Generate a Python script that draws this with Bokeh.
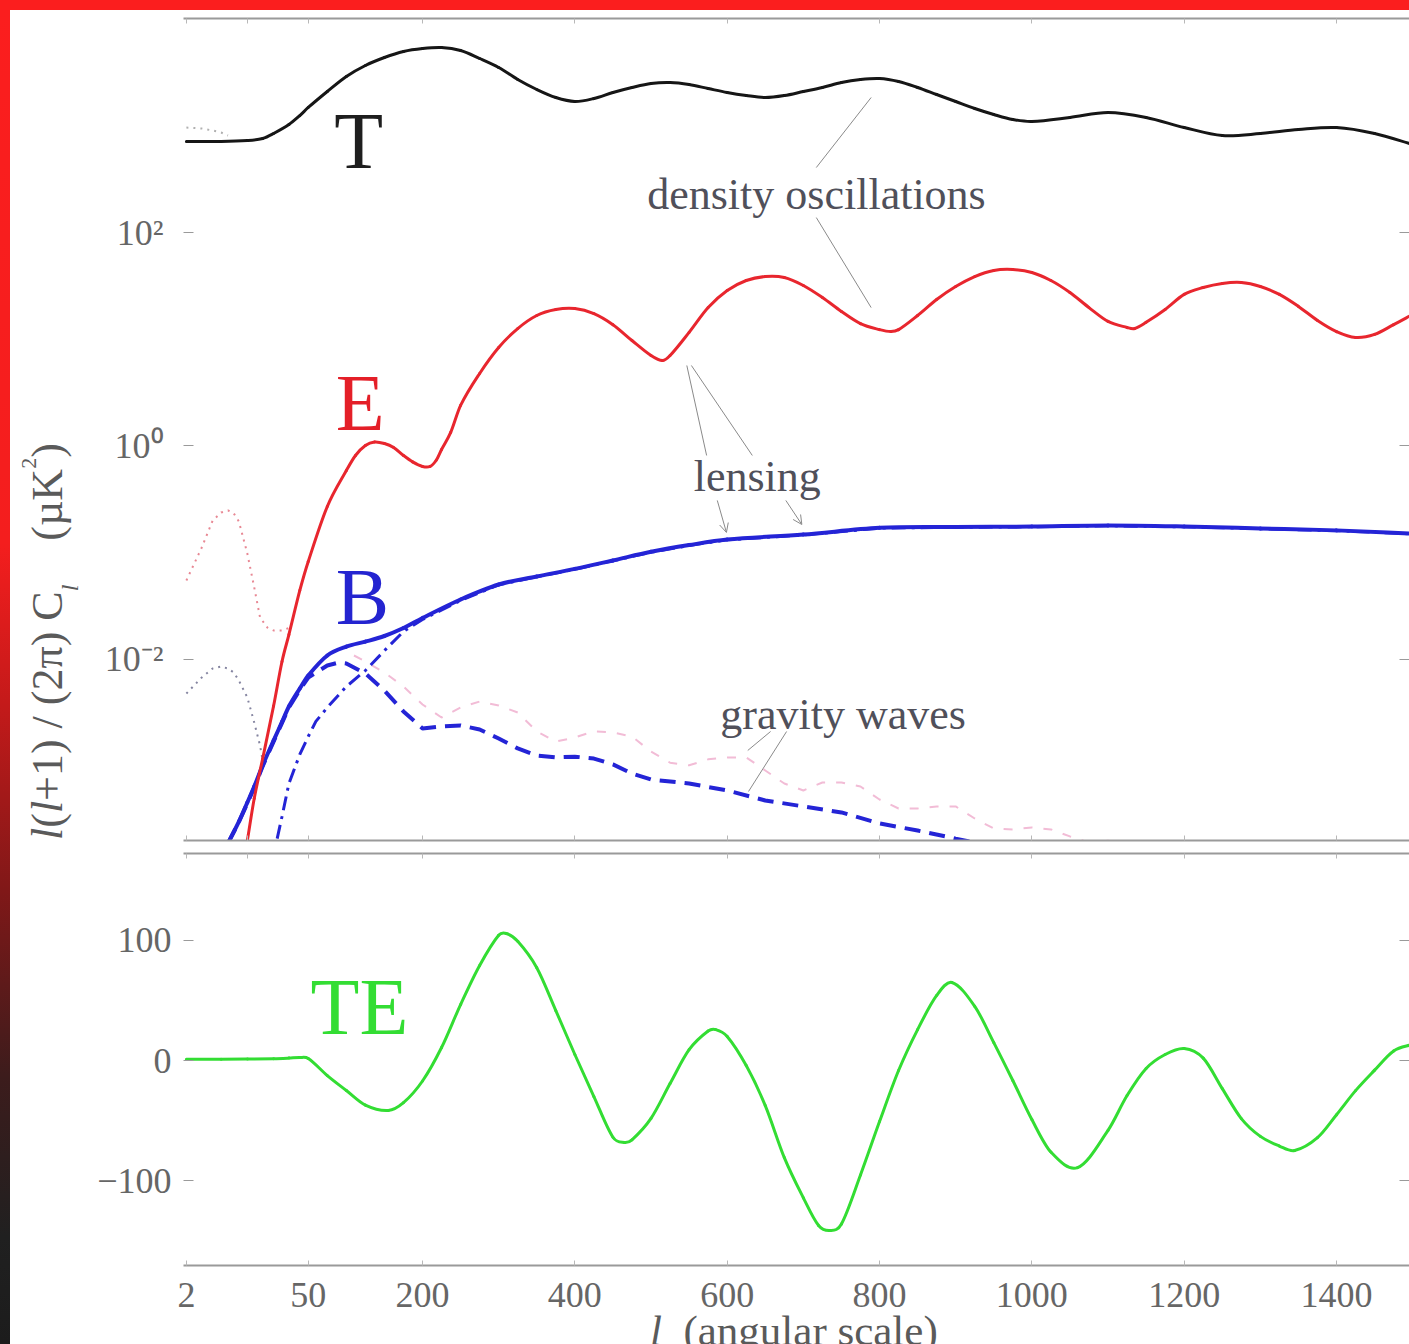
import numpy as np
from bokeh.plotting import figure
from bokeh.models import (Range1d, FixedTicker, LinearAxis, LogAxis, Label, Arrow,
                          OpenHead, Div)
from bokeh.layouts import column, row
from bokeh.embed import file_html
from bokeh.resources import INLINE

FONT = "Liberation Serif"

# ---- CMB angular power spectra, l(l+1) C_l / 2pi  [uK^2] ----
ell_T = [2, 5, 10, 15, 20, 30, 40, 50, 75, 100, 125, 150, 175, 200, 225, 250, 275, 300,
         325, 350, 375, 400, 425, 450, 475, 500, 525, 550, 575, 600, 625, 650, 675, 700,
         725, 750, 775, 800, 825, 850, 875, 900, 925, 950, 975, 1000, 1050, 1100, 1150,
         1200, 1250, 1300, 1350, 1400, 1450, 1500]
cl_T = [712, 712, 727, 760, 846, 1027, 1247, 1483, 2093, 2893, 3667, 4359, 4962, 5292,
        5408, 5068, 4266, 3513, 2712, 2186, 1839, 1687, 1800, 2049, 2282, 2488, 2542,
        2434, 2233, 2049, 1920, 1839, 1920, 2093, 2282, 2542, 2712, 2771, 2597, 2282,
        1962, 1687, 1451, 1275, 1144, 1096, 1195, 1331, 1195, 963, 810, 846, 922, 963,
        846, 667]

ell_E = [10, 12, 15, 20, 25, 30, 40, 50, 75, 100, 112, 125, 137, 150, 162, 175, 187, 200,
         210, 218, 225, 237, 250, 275, 300, 325, 350, 375, 400, 425, 450, 475, 500, 515,
         525, 550, 575, 600, 625, 650, 675, 700, 725, 750, 775, 800, 815, 825, 850, 875,
         900, 925, 950, 975, 1000, 1025, 1050, 1075, 1100, 1125, 1135, 1150, 1175, 1200,
         1225, 1250, 1275, 1300, 1325, 1350, 1375, 1400, 1425, 1450, 1475, 1500]
cl_E = [2.0e-4, 4.99e-4, 1.18e-3, 3.67e-3, 9.58e-3, 1.71e-2, 4.43e-2, 8.28e-2, 0.271,
        0.589, 0.815, 1.01, 1.09, 1.055, 0.97, 0.815, 0.71, 0.643, 0.643, 0.735, 0.927,
        1.34, 2.40, 4.78, 8.37, 12.6, 16.7, 19.0, 19.4, 17.4, 13.7, 9.73, 7.04, 6.32, 7.04,
        11.6, 19.8, 28.6, 35.5, 38.7, 37.9, 31.9, 24.6, 18.2, 14.0, 12.3, 11.8, 12.3, 16.7,
        23.6, 31.2, 38.7, 44.1, 45.0, 42.2, 35.5, 27.4, 19.8, 14.7, 12.9, 12.6, 14.4, 19.0,
        26.3, 30.5, 33.3, 34.0, 31.2, 26.3, 20.3, 15.0, 11.8, 10.4, 11.1, 13.7, 17.1]

ell_B = [6, 8, 10, 12, 15, 20, 25, 30, 40, 50, 75, 100, 125, 150, 175, 200, 250, 300, 350,
         400, 450, 500, 550, 600, 700, 800, 900, 1000, 1100, 1200, 1300, 1400, 1500]
cl_B = [1.9e-4, 3.03e-4, 4.57e-4, 6.46e-4, 1.02e-3, 1.74e-3, 2.60e-3, 3.63e-3, 5.35e-3,
        7.08e-3, 1.09e-2, 1.32e-2, 1.47e-2, 1.66e-2, 1.97e-2, 2.45e-2, 3.65e-2, 5.04e-2,
        5.99e-2, 7.06e-2, 8.46e-2, 0.102, 0.118, 0.133, 0.148, 0.171, 0.174, 0.176, 0.180,
        0.176, 0.169, 0.162, 0.151]

# tensor (gravity wave) B modes
ell_Bt = [6, 8, 10, 12, 15, 20, 25, 30, 40, 50, 75, 90, 100, 125, 150, 175, 200, 225, 250,
          275, 300, 325, 350, 375, 400, 425, 450, 475, 500, 550, 600, 650, 700, 750, 800,
          850, 900, 925]
cl_Bt = [1.9e-4, 3.0e-4, 4.5e-4, 6.3e-4, 1.0e-3, 1.7e-3, 2.55e-3, 3.55e-3, 5.2e-3,
         6.78e-3, 8.79e-3, 9.37e-3, 9.18e-3, 7.40e-3, 5.12e-3, 3.26e-3, 2.26e-3, 2.36e-3,
         2.41e-3, 2.21e-3, 1.82e-3, 1.47e-3, 1.26e-3, 1.21e-3, 1.23e-3, 1.18e-3, 1.04e-3,
         8.55e-4, 7.51e-4, 6.89e-4, 5.93e-4, 4.78e-4, 4.20e-4, 3.69e-4, 2.91e-4, 2.50e-4,
         2.10e-4, 1.93e-4]

# lensing B modes
ell_Bl = [22, 25, 30, 40, 50, 60, 75, 100, 125, 150, 175, 200, 250, 300, 350, 400, 450,
          500, 550, 600, 700, 800, 900, 1000, 1100, 1200, 1300, 1400, 1500]
cl_Bl = [2.10e-4, 3.38e-4, 6.89e-4, 1.29e-3, 1.90e-3, 2.63e-3, 3.55e-3, 5.58e-3, 7.88e-3,
         1.21e-2, 1.83e-2, 2.37e-2, 3.57e-2, 5.0e-2, 5.95e-2, 7.0e-2, 8.4e-2, 0.101, 0.117,
         0.132, 0.147, 0.170, 0.173, 0.175, 0.179, 0.175, 0.168, 0.161, 0.150]

# tensor (gravity wave) E modes
ell_Et = [110, 125, 150, 175, 200, 225, 250, 275, 300, 325, 350, 375, 400, 425, 450, 475,
          500, 525, 550, 575, 600, 625, 650, 675, 700, 725, 750, 775, 800, 825, 850, 875,
          900, 925, 950, 975, 1000, 1025, 1050, 1075, 1100, 1125]
cl_Et = [1.09e-2, 9.58e-3, 7.55e-3, 5.59e-3, 3.79e-3, 2.86e-3, 3.55e-3, 4.04e-3, 3.71e-3,
         3.19e-3, 2.12e-3, 1.70e-3, 1.86e-3, 2.12e-3, 2.07e-3, 1.90e-3, 1.37e-3, 1.08e-3,
         1.02e-3, 1.16e-3, 1.21e-3, 1.21e-3, 9.13e-4, 6.89e-4, 5.93e-4, 7.04e-4, 7.04e-4,
         6.46e-4, 4.88e-4, 4.02e-4, 4.02e-4, 4.20e-4, 4.20e-4, 3.24e-4, 2.61e-4, 2.56e-4,
         2.67e-4, 2.56e-4, 2.20e-4, 1.93e-4, 2.0e-4, 1.96e-4]

# reionization bumps at low l
ell_Tr = [2, 3, 4, 5, 6]
cl_Tr = [963, 942, 903, 865, 810]
ell_Er = [2, 3, 4, 5, 6, 7, 8, 10, 12, 14, 17, 20, 25, 31]
cl_Er = [5.50e-2, 0.112, 0.200, 0.238, 0.249, 0.233, 0.196, 9.84e-2, 4.73e-2, 2.47e-2,
         1.99e-2, 1.87e-2, 1.87e-2, 1.99e-2]
ell_Br = [2, 3, 4, 5, 6, 7, 8, 10, 12, 14, 15]
cl_Br = [4.80e-3, 6.78e-3, 8.23e-3, 8.60e-3, 8.23e-3, 7.55e-3, 6.36e-3, 4.41e-3, 2.57e-3,
         1.56e-3, 1.13e-3]

# temperature-polarization cross spectrum [uK^2]
ell_TE = [2, 5, 10, 20, 30, 40, 50, 75, 100, 125, 155, 175, 200, 225, 250, 275, 300,
          310, 325, 350, 375, 400, 425, 450, 465, 475, 500, 525, 550, 575, 585, 600, 625,
          650, 675, 700, 720, 735, 750, 775, 800, 825, 850, 875, 895, 925, 950, 975,
          1000, 1025, 1060, 1100, 1125, 1150, 1175, 1200, 1225, 1250,
          1275, 1300, 1325, 1345, 1375, 1400, 1425, 1450, 1475, 1500]
cl_TE = [1.0, 1.0, 1.2, 1.5, 2.0, 2.5, 1.7, -12.5, -24.9, -37.0, -41.5, -35.0,
         -17.0, 10.8, 46.5, 78.9, 104.0, 105.5, 99.0, 77.1, 41.5, 5.0, -29.9, -63.7, -68.1,
         -65.8, -48.0, -19.1, 9.0, 24.5, 25.7, 20.0, -4.2, -37.4, -80.6, -114.0, -137.0,
         -141.2, -135.7, -95.0, -50.7, -8.3, 25.7, 54.0, 64.8, 45.0, 14.9, -16.6,
         -49.0, -76.0, -88.9, -58.0, -29.1, -6.6, 5.0, 10.0, 2.0, -23.3,
         -48.2, -63.0, -71.0, -74.7, -64.0, -45.0, -25.0, -8.0, 8.0, 13.5]

# ---- tick labels ----
x_tick_ell = [2, 50, 200, 400, 600, 800, 1000, 1200, 1400]
x_tick_text = ["2", "50", "200", "400", "600", "800", "1000", "1200", "1400"]
x_minor_ell = [10]
y_tick_pow = [1e-2, 1e0, 1e2]
y_tick_pow_text = ["10\u207b\u00b2", "10\u2070", "10\u00b2"]
y_tick_te = [-100, 0, 100]
y_tick_te_text = ["\u2212100", "0", "100"]

# the l axis is logarithmic for 2 <= l < 50 and linear above
L_SPLIT = 50.0
LOG_SPAN = 160.0


def lpos(l):
    l = np.asarray(l, dtype=float)
    return np.where(l >= L_SPLIT, l,
                    L_SPLIT - LOG_SPAN * np.log(L_SPLIT / l) / np.log(L_SPLIT / 2.0))


def lx(l):
    return float(lpos(l))


def bezier_path(xs, ys, log_y=False):
    """Cubic Hermite control points (slopes from neighbouring points) so a solid
    spectrum is stroked as a smooth curve through every tabulated point."""
    x = np.asarray(xs, float)
    y = np.log10(np.asarray(ys, float)) if log_y else np.asarray(ys, float)
    m = np.empty_like(y)
    m[1:-1] = (y[2:] - y[:-2]) / (x[2:] - x[:-2])
    m[0] = (y[1] - y[0]) / (x[1] - x[0])
    m[-1] = (y[-1] - y[-2]) / (x[-1] - x[-2])
    h = np.diff(x)
    cx0 = x[:-1] + h / 3.0
    cx1 = x[1:] - h / 3.0
    cy0 = y[:-1] + m[:-1] * h / 3.0
    cy1 = y[1:] - m[1:] * h / 3.0
    y0, y1 = y[:-1], y[1:]
    if log_y:
        y0, y1, cy0, cy1 = (10.0 ** a for a in (y0, y1, cy0, cy1))
    return dict(x0=x[:-1], y0=y0, x1=x[1:], y1=y1, cx0=cx0, cy0=cy0, cx1=cx1, cy1=cy1)


x_ticks = [round(float(v), 6) for v in lpos(x_tick_ell)]
x_ticks_all = sorted(x_ticks + [round(float(v), 6) for v in lpos(x_minor_ell)])
x_overrides = dict(zip(x_ticks, x_tick_text))

x_range = Range1d(-113.8, 1495.8)

TICK_GRAY = "#9a9a9a"
TEXT_GRAY = "#5a5a5a"
FIG_W = 1319


def make_fig(height, y_range, y_type, top, bottom):
    p = figure(width=FIG_W, height=height, x_range=x_range, y_range=y_range,
               y_axis_type=y_type, output_backend="svg", toolbar_location=None,
               min_border_left=93, min_border_right=0, min_border_top=top,
               min_border_bottom=bottom)
    p.outline_line_color = None
    p.grid.visible = False
    p.background_fill_color = "white"
    p.border_fill_color = "white"
    return p


def hide_labels(ax):
    ax.major_label_text_font_size = "1px"
    ax.major_label_text_color = None
    ax.major_label_standoff = 0


def style_x(ax, labels):
    ax.axis_line_color = TICK_GRAY
    ax.axis_line_width = 2
    ax.major_tick_in = 5
    ax.major_tick_out = 0
    ax.major_tick_line_color = "#b8b8b8"
    ax.minor_tick_line_color = None
    if labels:
        ax.ticker = FixedTicker(ticks=x_ticks)
        ax.major_label_overrides = x_overrides
        ax.major_label_text_font = FONT
        ax.major_label_text_font_size = "36px"
        ax.major_label_text_color = "#666666"
        ax.major_label_standoff = 17
    else:
        ax.ticker = FixedTicker(ticks=x_ticks_all)
        hide_labels(ax)


def style_y(ax, ticks, texts, labels, standoff=12):
    ax.ticker = FixedTicker(ticks=ticks)
    ax.axis_line_color = None
    ax.major_tick_in = 10
    ax.major_tick_out = 0
    ax.major_tick_line_color = TICK_GRAY
    ax.major_tick_line_width = 1
    ax.minor_tick_line_color = None
    if labels:
        ax.major_label_overrides = dict(zip(ticks, texts))
        ax.major_label_text_font = FONT
        ax.major_label_text_font_size = "36px"
        ax.major_label_text_color = "#666666"
        ax.major_label_standoff = standoff
    else:
        hide_labels(ax)


def add_text(p, txt, x, y, size, color, dy):
    p.add_layout(Label(x=x, y=y, text=txt, text_font=FONT, text_font_size=f"{size}px",
                       text_color=color, text_align="left", text_baseline="alphabetic",
                       y_offset=dy))


# ---------------- upper panel: T, E, B power ----------------
p1 = make_fig(837, Range1d(2.015e-4, 1.011e4), "log", 8, 7)
style_x(p1.xaxis[0], False)
top1 = LinearAxis()
style_x(top1, False)
p1.add_layout(top1, "above")
style_y(p1.yaxis[0], y_tick_pow, y_tick_pow_text, True, standoff=20)
right1 = LogAxis()
style_y(right1, y_tick_pow, y_tick_pow_text, False)
p1.add_layout(right1, "right")

# faint curves first
p1.line(lpos(ell_Tr), cl_Tr, line_color="#b0b0b0", line_width=2, line_dash="2 5")
p1.line(lpos(ell_Er), cl_Er, line_color="#e06070", line_alpha=0.75, line_width=2,
        line_dash="2 5")
p1.line(lpos(ell_Br), cl_Br, line_color="#505078", line_alpha=0.7, line_width=2,
        line_dash="2 5")
p1.line(lpos(ell_Et), cl_Et, line_color="#f2bcd6", line_width=2, line_dash="9 11")

p1.line(lpos(ell_Bl), cl_Bl, line_color="#2424d6", line_width=3, line_dash="14 6 3 6")
p1.line(lpos(ell_Bt), cl_Bt, line_color="#2424d6", line_width=4, line_dash="16 9")
p1.bezier(**bezier_path(lpos(ell_B), cl_B, log_y=True), line_color="#2424d6",
          line_width=4, line_cap="round")
p1.bezier(**bezier_path(lpos(ell_E), cl_E, log_y=True), line_color="#e8262e",
          line_width=3, line_cap="round")
p1.bezier(**bezier_path(lpos(ell_T), cl_T, log_y=True), line_color="#161616",
          line_width=3, line_cap="round")

# leader lines for the annotations (l, power)
p1.segment(x0=[lx(717), lx(717), lx(547), lx(553), lx(657), lx(678)],
           y0=[406, 138, 5.68, 5.68, 2.116e-3, 2.116e-3],
           x1=[lx(789), lx(789), lx(573), lx(633), lx(627), lx(628)],
           y1=[1839, 19.8, 0.815, 0.815, 1.405e-3, 5.80e-4],
           line_color="#8a8a8a", line_width=1)
for xs, ys, xe, ye in [(587, 0.309, 599, 0.155), (677, 0.309, 698, 0.184)]:
    p1.add_layout(Arrow(end=OpenHead(size=9, line_color="#8a8a8a", line_width=1),
                        x_start=lx(xs), y_start=ys, x_end=lx(xe), y_end=ye,
                        line_color="#8a8a8a", line_width=1))

for txt, l0, v0, dy in [("density oscillations", 495, 168.0, 14), ("lensing", 556, 0.383, 14),
                        ("gravity waves", 591, 2.46e-3, 10)]:
    add_text(p1, txt, lx(l0), v0, 44, "#50505a", dy)

add_text(p1, "T", lx(84), 398.0, 80, "#1e1e1e", 27)
add_text(p1, "E", lx(86), 1.40, 80, "#e41f28", 27)
add_text(p1, "B", lx(86), 0.0217, 80, "#2424d0", 27)

# ---------------- lower panel: TE cross spectrum ----------------
p2 = make_fig(479, Range1d(-170.2, 171.9), "linear", 6, 61)
style_x(p2.xaxis[0], True)
top2 = LinearAxis()
style_x(top2, False)
p2.add_layout(top2, "above")
style_y(p2.yaxis[0], y_tick_te, y_tick_te_text, True, standoff=12)
right2 = LinearAxis()
style_y(right2, y_tick_te, y_tick_te_text, False)
p2.add_layout(right2, "right")

p2.bezier(**bezier_path(lpos(ell_TE), cl_TE), line_color="#33dd33", line_width=3,
          line_cap="round")
add_text(p2, "TE", lx(53), 22.4, 80, "#33dd33", 27)

# ---------------- axis titles (HTML so the l's can be italic) ----------------
ylabel_html = (
    '<div style="position:relative;width:80px;height:1334px;">'
    '<div style="position:absolute;left:16px;top:830px;transform:rotate(-90deg);'
    "transform-origin:0 0;white-space:nowrap;font-family:'Liberation Serif',serif;"
    'font-size:44px;line-height:44px;color:#5a5a5a;">'
    '<i>l</i>(<i>l</i>+1) / (2\u03c0) C'
    '<span style="font-size:24px;line-height:0;vertical-align:-16px;"><i>l</i></span>'
    '&nbsp;&nbsp;&nbsp;&nbsp;(\u00b5K'
    '<span style="font-size:22px;line-height:0;vertical-align:26px;">2</span>)'
    '</div></div>')
xlabel_html = (
    '<div style="position:relative;width:1319px;height:18px;">'
    '<div style="position:absolute;left:560px;top:-17px;white-space:nowrap;'
    "font-family:'Liberation Serif',serif;font-size:43px;line-height:43px;"
    'color:#5a5a5a;"><i>l</i>&nbsp;&nbsp;(angular scale)</div></div>')

ylabel = Div(text=ylabel_html, width=80, height=1334, margin=0)
xlabel = Div(text=xlabel_html, width=FIG_W, height=18, margin=0)

# ---------------- page frame ----------------
top_bar = Div(text="", width=1409, height=10, margin=0,
              styles={"background-color": "#fb1e1e"})
side_bar = Div(text="", width=10, height=1334, margin=0,
               styles={"background": "linear-gradient(to bottom, #fb1e1e 0%, #f41e1e 40%, "
                                     "#c41a1a 52%, #801818 66%, #3c1c1c 80%, #202020 92%, "
                                     "#1c1c1c 100%)"})

layout = column(top_bar,
                row(side_bar, ylabel, column(p1, p2, xlabel, spacing=0), spacing=0),
                spacing=0)

open("out.html", "w").write(file_html(layout, INLINE))
